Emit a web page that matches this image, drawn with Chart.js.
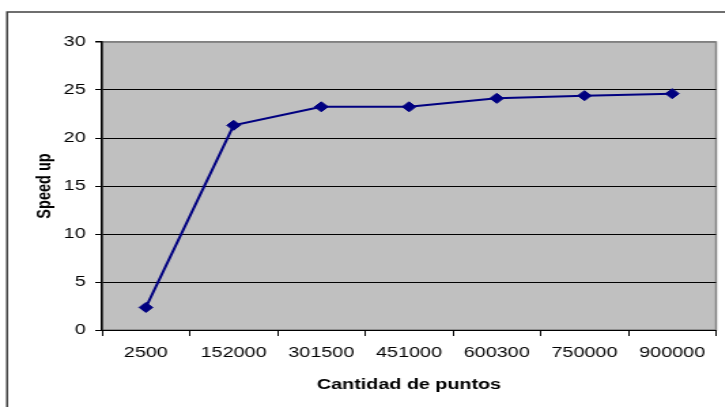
<!DOCTYPE html>
<html>
<head>
<meta charset="utf-8">
<script src="https://cdn.jsdelivr.net/npm/chart.js"></script>
<style>
  html, body { margin: 0; padding: 0; background: #fff; overflow: hidden; }
  /* el gráfico original está estirado en horizontal */
  #wrap { width: 533px; height: 407px; transform: scaleX(1.36); transform-origin: 0 0; }
</style>
</head>
<body>
<div id="wrap"><canvas id="grafico"></canvas></div>
<script>
// --- Datos ---
const categorias = ['2500', '152000', '301500', '451000', '600300', '750000', '900000'];
const speedUp = [2.35, 21.32, 23.25, 23.25, 24.13, 24.41, 24.62];
const ejeYMin = 0;
const ejeYMax = 30;
const ejeYPaso = 5;

const fuente = 'Liberation Sans, Arial, sans-serif';

// Fondo gris del área de trazado y marco exterior
const fondoExcel = {
  id: 'fondoExcel',
  beforeDraw(chart) {
    const { ctx, chartArea: a } = chart;
    ctx.save();
    // marco exterior
    ctx.strokeStyle = '#404040';
    ctx.lineWidth = 1.5;
    ctx.beginPath();
    ctx.moveTo(5.2, 600);
    ctx.lineTo(5.2, 12);
    ctx.lineTo(900, 12);
    ctx.stroke();
    // área de trazado
    ctx.fillStyle = '#c0c0c0';
    ctx.fillRect(a.left, a.top, a.right - a.left, a.bottom - a.top);
    ctx.strokeStyle = '#808080';
    ctx.lineWidth = 1.5;
    ctx.strokeRect(a.left, a.top, a.right - a.left, a.bottom - a.top);
    ctx.restore();
  }
};

new Chart(document.getElementById('grafico'), {
  type: 'line',
  data: {
    labels: categorias,
    datasets: [{
      label: 'Speed up',
      data: speedUp,
      borderColor: '#000080',
      backgroundColor: '#000080',
      borderWidth: 2,
      tension: 0,
      pointStyle: 'rectRot',
      pointRadius: 5,
      pointBorderWidth: 1,
      pointBackgroundColor: '#000080',
      pointBorderColor: '#000080'
    }]
  },
  options: {
    responsive: true,
    maintainAspectRatio: false,
    animation: false,
    events: [],
    layout: { padding: { left: 6, right: 6.5, top: 42, bottom: 0 } },
    plugins: {
      legend: { display: false },
      tooltip: { enabled: false }
    },
    scales: {
      x: {
        offset: true,
        grid: { offset: true, drawOnChartArea: false, tickLength: 6, color: '#000' },
        border: { color: '#000', width: 1 },
        ticks: { color: '#000', padding: 8, maxRotation: 0, autoSkip: false, font: { family: fuente, size: 14.5 } },
        title: {
          display: true,
          text: 'Cantidad de puntos',
          color: '#000',
          font: { family: fuente, size: 14.5, weight: 'bold' },
          padding: { top: 0, bottom: 13.5 }
        },
        afterFit: (s) => { s.height = 77; }
      },
      y: {
        min: ejeYMin,
        max: ejeYMax,
        grid: {
          color: (c) => (c.tick && c.tick.value === ejeYMax ? '#808080' : '#000'),
          lineWidth: (c) => (c.tick && c.tick.value === ejeYMax ? 1.5 : 1),
          tickColor: '#000',
          tickLength: 5
        },
        border: { color: '#000', width: 1.5 },
        ticks: { stepSize: ejeYPaso, color: '#000', padding: 7, font: { family: fuente, size: 14.5 } },
        title: {
          display: true,
          text: 'Speed up',
          color: '#000',
          font: { family: fuente, size: 14.5, weight: 'bold' },
          padding: { top: 18, bottom: 0 }
        },
        afterFit: (s) => { s.width = 69; }
      }
    }
  },
  plugins: [fondoExcel]
});
</script>
</body>
</html>
